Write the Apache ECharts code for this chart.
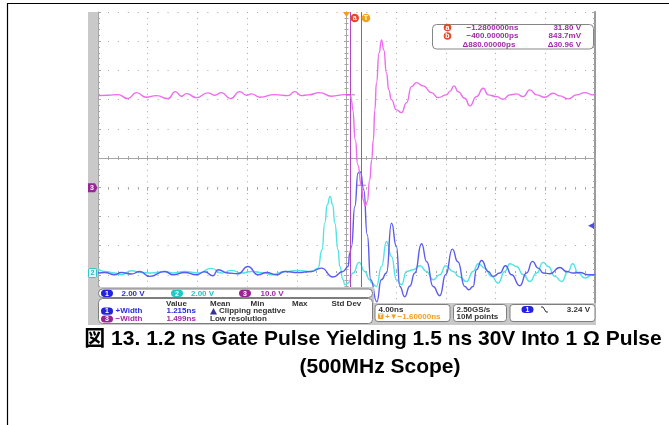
<!DOCTYPE html>
<html><head><meta charset="utf-8">
<script src="https://cdn.jsdelivr.net/npm/echarts@6/dist/echarts.min.js"></script>
<style>html,body{margin:0;padding:0;background:#fff}#c{width:669px;height:425px}</style>
</head><body><div id="c"></div><script>
// ---- scope settings ----
const timePerDiv = 4;        // ns / div
const horizPos = -1.6;       // ns at screen centre
const chVoltsPerDiv = [2, 2, 10];          // ch1, ch2, ch3
const chGroundDiv = [-3.94, -3.94, -1.017]; // ground marker position in divisions
const triggerLevel = 3.24;   // V on ch1
const cursorTime = [-1.28, -0.40];   // ns
const cursorVolts = [31.80, 0.8437]; // V on ch3

// ---- waveforms [time ns, volts] ----
const ch3Trace = [[-21.60,31.54],[-20.80,31.67],[-19.99,31.88],[-19.19,30.51],[-18.51,32.57],[-17.71,30.99],[-16.90,31.54],[-15.97,30.51],[-15.37,32.91],[-14.89,31.33],[-14.48,32.22],[-13.68,30.85],[-12.75,32.46],[-12.21,31.67],[-11.67,32.57],[-10.94,30.51],[-10.19,32.91],[-9.65,31.67],[-9.25,32.12],[-8.58,30.99],[-7.38,31.88],[-6.30,31.54],[-5.76,32.91],[-5.23,31.54],[-4.69,31.78],[-3.75,32.57],[-2.81,31.33],[-1.74,31.88],[-1.28,31.80],[-1.20,30.07],[-1.10,26.64],[-0.89,16.37],[-0.69,7.80],[-0.40,0.84],[-0.25,-4.19],[-0.09,-6.24],[0.07,-4.87],[0.27,2.66],[0.43,9.51],[0.56,16.37],[0.68,26.64],[0.81,35.89],[1.02,46.16],[1.22,50.62],[1.40,47.19],[1.62,39.31],[1.80,33.49],[2.02,30.07],[2.42,26.64],[2.83,25.72],[3.23,29.04],[3.63,34.62],[4.03,35.99],[4.57,34.86],[5.24,32.57],[5.77,30.85],[6.45,31.78],[6.71,32.91],[7.06,34.86],[7.38,32.91],[7.92,30.65],[8.33,28.01],[8.86,31.20],[9.40,34.07],[9.80,31.78],[10.48,31.20],[11.01,30.30],[11.55,31.78],[12.09,32.12],[12.62,31.20],[13.16,33.49],[13.70,31.78],[14.36,30.99],[15.03,32.36],[15.57,31.44],[16.24,30.41],[16.92,31.78],[17.58,32.57],[18.25,31.78],[18.40,31.60]];
const ch2Trace = [[-21.60,0.27],[-21.06,0.11],[-20.26,0],[-19.72,-0.12],[-18.91,0.16],[-18.11,0.04],[-17.30,0],[-16.23,0.11],[-15.56,0],[-14.62,0.11],[-13.55,0],[-12.47,0.32],[-11.67,0],[-10.86,0.18],[-10.06,0],[-9.25,0.11],[-8.18,0],[-7.64,-0.12],[-6.57,0.11],[-5.50,0.18],[-4.42,0.11],[-3.89,0.34],[-3.57,1.60],[-3.35,3.42],[-3.15,4.68],[-2.92,5.25],[-2.71,4.68],[-2.54,3.42],[-2.28,1.60],[-2.14,0.45],[-1.88,-0.46],[-1.74,-0.80],[-1.47,-0.68],[-1.07,0],[-0.59,0.73],[-0.13,0.11],[0.27,-0.46],[0.41,-0.68],[0.81,-0.92],[1.22,0.45],[1.62,2.16],[2.02,1.14],[2.42,-0.46],[2.83,-0.80],[3.23,0.11],[3.76,0.23],[4.32,0.50],[4.84,0.11],[5.37,-0.46],[5.91,-0.12],[6.39,0.50],[6.97,0.11],[7.52,-0.27],[8.06,-0.58],[8.59,0.11],[9.00,0.64],[9.53,0.34],[10.07,-0.23],[10.60,-0.68],[11.14,0.11],[11.55,0.64],[12.09,0.45],[12.62,-0.12],[13.16,-0.58],[13.70,0],[14.23,0.73],[14.63,0.45],[15.17,-0.23],[15.71,-0.58],[16.24,0.11],[16.60,0.64],[17.05,0],[17.58,-0.34],[18.25,-0.12],[18.40,-0.10]];
const ch1Trace = [[-21.60,0],[-21.06,0.04],[-20.26,-0.12],[-19.72,0.04],[-18.91,-0.07],[-18.24,0.11],[-17.44,-0.23],[-16.23,0.11],[-15.56,-0.12],[-14.62,0.04],[-13.68,-0.12],[-13.01,0.09],[-12.35,-0.18],[-11.94,0.23],[-11.14,0],[-10.33,-0.05],[-9.53,0.45],[-8.72,-0.12],[-8.04,0.04],[-7.24,-0.12],[-6.57,0.11],[-5.50,0.04],[-4.42,0.11],[-3.62,0.34],[-2.69,-0.27],[-1.88,0.11],[-1.47,0.45],[-1.34,1.37],[-1.20,1.82],[-0.93,4.56],[-0.67,6.85],[-0.48,6.92],[-0.21,5.70],[0.07,2.62],[0.35,-0.46],[0.84,-1.97],[1.20,-0.46],[1.62,0],[2.02,3.42],[2.42,1.81],[2.69,-0.92],[3.09,-1.62],[3.49,-0.90],[3.90,0],[4.44,2.01],[4.86,0.77],[5.37,-0.92],[5.91,-1.55],[6.39,-0.10],[6.92,1.64],[7.36,0.77],[7.92,-0.92],[8.24,-1.14],[8.59,-0.92],[8.86,0.23],[9.27,0.86],[9.80,0.11],[10.20,-0.23],[10.74,0],[11.20,0.50],[11.68,-0.12],[12.35,-0.87],[12.89,0],[13.37,0.80],[13.83,0.34],[14.23,0],[14.77,-0.05],[15.57,0.38],[16.11,0.11],[16.64,0],[17.18,0.04],[17.85,-0.12],[18.25,-0.12],[18.40,-0.10]];

// ---- readout texts ----
const chScaleLabels = ['2.00 V', '2.00 V', '10.0 V'];
const measHeaders = ['Value', 'Mean', 'Min', 'Max', 'Std Dev'];
const measNames = ['+Width', '\u2212Width'];
const measValues = ['1.215ns', '1.499ns'];
const measNotes = ['Clipping negative', 'Low resolution'];
const cursorRows = [['\u22121.2800000ns', '31.80 V'], ['\u2212400.00000ps', '843.7mV'], ['\u0394880.00000ps', '\u039430.96 V']];
const captionLines = ['図 13. 1.2 ns Gate Pulse Yielding 1.5 ns 30V Into 1 Ω Pulse', '(500MHz Scope)'];

// ---- layout ----
const G = {l: 98, t: 12, w: 497, h: 292};
const GC = '#a6a6a6';
const COL = {ch1: '#5c5cec', ch2: '#52e4e4', ch3: '#ee6cee', cur: '#b447c6'};
const PILL = ['#2323dc', '#22c8c8', '#982498'];
const TXT = ['#2a2ae0', '#22c4c4', '#a02aa6'];
const F = 'bold 8px "Liberation Sans", Arial, sans-serif';
const CAPF = 'bold 21px "Liberation Sans","Noto Sans CJK JP",sans-serif';

const chart = echarts.init(document.getElementById('c'), null, {renderer: 'canvas', width: 669, height: 425});

function divAxis(o) {
  return Object.assign({
    type: 'value', min: -5, max: 5, interval: 1,
    axisLabel: {show: false}, splitLine: {show: false},
    axisLine: {show: true, onZero: false, lineStyle: {color: GC, width: 1}},
    axisTick: {show: true, inside: true, length: 3, lineStyle: {color: GC}},
    minorTick: {show: true, splitNumber: 5, length: 2, lineStyle: {color: GC}},
    minorSplitLine: {show: false}
  }, o);
}
const hidden = (gi) => ({type: 'value', gridIndex: gi, show: false, min: -5, max: 5});

const xMin = horizPos - 5 * timePerDiv, xMax = horizPos + 5 * timePerDiv;
const chAxis = (i) => ({type: 'value', gridIndex: 0, show: false,
  min: (-5 - chGroundDiv[i]) * chVoltsPerDiv[i], max: (5 - chGroundDiv[i]) * chVoltsPerDiv[i]});

function T(x, y, s, fill, align, font) {
  return {type: 'text', z: 60, silent: true, style: {text: s, x: x, y: y, fill: fill, font: font || F,
    align: align || 'left', textAlign: align || 'left', verticalAlign: 'middle', textVerticalAlign: 'middle'}};
}
function R(x, y, w, h, r, fill, stroke, z) {
  return {type: 'rect', z: z || 55, silent: true, shape: {x: x, y: y, width: w, height: h, r: r},
    style: {fill: fill, stroke: stroke || null, lineWidth: 1}};
}
function pill(x, y, n, color) {
  return [R(x, y - 3.6, 12, 7.2, 3.6, color, null, 58), T(x + 6, y + 0.3, String(n), '#fff', 'center', 'bold 7px "Liberation Sans", Arial, sans-serif')];
}
function circ(cx, cy, r, fill, letter) {
  return [{type: 'circle', z: 58, silent: true, shape: {cx: cx, cy: cy, r: r}, style: {fill: fill}},
    T(cx, cy + 0.3, letter, '#fff', 'center', 'bold 7px "Liberation Sans", Arial, sans-serif')];
}

const gfx = [];
// page frame
gfx.push({type: 'line', z: 60, shape: {x1: 7, y1: 3.5, x2: 669, y2: 3.5}, style: {stroke: '#000', lineWidth: 1.2}});
gfx.push({type: 'line', z: 60, shape: {x1: 7.5, y1: 3, x2: 7.5, y2: 425}, style: {stroke: '#000', lineWidth: 1.2}});
// grey frame parts
gfx.push(R(88, 12, 10, 313, 0, '#c9c9c9', null, 50));
gfx.push(R(88, 287, 286, 38, 0, '#c9c9c9', null, 50));
gfx.push(R(373, 303, 223, 22, 0, '#c9c9c9', null, 50));
// ground markers
const gy = (i) => G.t + (5 - chGroundDiv[i]) * G.h / 10;
gfx.push({type: 'polygon', z: 56, shape: {points: [[88, gy(2) - 4.5], [95, gy(2) - 4.5], [97.5, gy(2)], [95, gy(2) + 4.5], [88, gy(2) + 4.5]]}, style: {fill: PILL[2]}});
gfx.push(T(92, gy(2) + 0.3, '3', '#fff', 'center', 'bold 7px "Liberation Sans", Arial, sans-serif'));
gfx.push(R(88.5, gy(1) - 4.5, 8, 9, 1, '#e4fafa', '#2cc8c8', 56));
gfx.push(T(92.5, gy(1) + 0.3, '2', '#22b8b8', 'center', 'bold 7px "Liberation Sans", Arial, sans-serif'));
// top markers
const cx0 = G.l + G.w / 2;
gfx.push({type: 'polygon', z: 58, shape: {points: [[cx0 - 3.5, 12], [cx0 + 3.5, 12], [cx0, 17]]}, style: {fill: '#f0a020'}});
gfx.push(...circ(354.7, 18, 4.3, '#e8482a', 'a'));
gfx.push(...circ(366, 18, 4.3, '#f4a21e', 'T'));
// cursor readout box
gfx.push(R(432.5, 24.5, 161, 24.5, 4, '#fff', '#858585', 55));
const rowY = [27.6, 36, 44.5];
gfx.push(...circ(447.5, rowY[0], 3.8, '#e8482a', 'a'));
gfx.push(...circ(447.5, rowY[1], 3.8, '#e8482a', 'b'));
cursorRows.forEach((r, i) => {
  gfx.push(T(i === 2 ? 462.5 : 466.5, rowY[i], r[0], TXT[2], 'left'));
  gfx.push(T(581, rowY[i], r[1], TXT[2], 'right'));
});
// channel scale box
gfx.push(R(98.5, 289, 274, 8.5, 4, '#fff', '#7e7e7e', 55));
const pillX = [101, 171, 239], lblX = [121.5, 191, 260.5];
for (let i = 0; i < 3; i++) {
  gfx.push(...pill(pillX[i], 293.3, i + 1, PILL[i]));
  gfx.push(T(lblX[i], 293.6, chScaleLabels[i], TXT[i], 'left'));
}
// measurement box
gfx.push(R(98.5, 298.5, 274, 25, 4, '#fff', '#7e7e7e', 55));
const hdrX = [166, 210, 250.5, 292, 331.5];
measHeaders.forEach((h, i) => gfx.push(T(hdrX[i], 303.6, h, '#333', 'left')));
const mChan = [0, 2], mY = [311.2, 319];
for (let k = 0; k < 2; k++) {
  gfx.push(...pill(101, mY[k], mChan[k] + 1, PILL[mChan[k]]));
  gfx.push(T(115.5, mY[k], measNames[k], TXT[mChan[k]], 'left'));
  gfx.push(T(166.5, mY[k], measValues[k], TXT[mChan[k]], 'left'));
}
gfx.push({type: 'polygon', z: 58, shape: {points: [[210, 314.5], [217, 314.5], [213.5, 308]]}, style: {fill: '#35309a'}});
gfx.push(T(219, mY[0], measNotes[0], '#333', 'left'));
gfx.push(T(210, mY[1], measNotes[1], '#333', 'left'));
// timebase / acquisition / trigger boxes
gfx.push(R(375, 304.5, 75, 17, 3, '#fff', '#7e7e7e', 55));
gfx.push(T(378.5, 309.5, timePerDiv.toFixed(2) + 'ns', '#333', 'left'));
gfx.push(R(378, 313.5, 5.5, 5.5, 1, '#f0a020', null, 58));
gfx.push(T(380.8, 316.5, 'T', '#fff', 'center', 'bold 5px "Liberation Sans", Arial, sans-serif'));
gfx.push(T(385, 316.6, '+\u25BC\u2212' + Math.abs(horizPos).toFixed(5) + 'ns', '#f0a020', 'left'));
gfx.push(R(453.5, 304.5, 53, 17, 3, '#fff', '#7e7e7e', 55));
gfx.push(T(456.5, 309.5, '2.50GS/s', '#333', 'left'));
gfx.push(T(456.5, 317, '10M points', '#333', 'left'));
gfx.push(R(510, 304.5, 85, 17, 3, '#fff', '#7e7e7e', 55));
gfx.push(...pill(521.5, 309.5, 1, PILL[0]));
gfx.push({type: 'polyline', z: 58, shape: {points: [[541, 307], [543, 307], [546, 312], [548, 312]]}, style: {stroke: '#333', lineWidth: 1, fill: null}});
gfx.push(T(590, 309.8, triggerLevel.toFixed(2) + ' V', '#333', 'right'));
// caption
gfx.push(T(373, 339, captionLines[0], '#000', 'center', CAPF));
gfx.push(T(380, 367, captionLines[1], '#000', 'center', CAPF));

const gridBase = {containLabel: false, show: false};
const lineCommon = {type: 'line', xAxisIndex: 0, showSymbol: false, smooth: 0.55, smoothMonotone: 'x', silent: true};
const option = {
  animation: false,
  backgroundColor: '#fff',
  grid: [
    Object.assign({left: G.l, top: G.t, width: G.w, height: G.h}, gridBase),
    Object.assign({left: G.l, top: G.t, width: G.w, height: G.h / 2}, gridBase),
    Object.assign({left: G.l, top: G.t + G.h / 2, width: G.w, height: G.h / 2}, gridBase),
    Object.assign({left: G.l, top: G.t, width: G.w / 2, height: G.h}, gridBase),
    Object.assign({left: G.l + G.w / 2, top: G.t, width: G.w / 2, height: G.h}, gridBase)
  ],
  xAxis: [
    {type: 'value', gridIndex: 0, show: false, min: xMin, max: xMax},
    divAxis({gridIndex: 0, position: 'bottom', axisLine: {show: false}, splitLine: {show: true, lineStyle: {color: GC, width: 1, type: [1, 4.84]}}}),
    divAxis({gridIndex: 0, position: 'top', axisLine: {show: false}}),
    divAxis({gridIndex: 1, position: 'bottom', axisTick: {show: true, inside: true, length: 2.5, lineStyle: {color: GC}}}),
    divAxis({gridIndex: 2, position: 'top', axisTick: {show: true, inside: true, length: 2.5, lineStyle: {color: GC}}}),
    hidden(3), hidden(4)
  ],
  yAxis: [
    chAxis(0), chAxis(1), chAxis(2),
    divAxis({gridIndex: 0, position: 'left', splitLine: {show: true, lineStyle: {color: GC, width: 1, type: [1, 8.94]}}}),
    divAxis({gridIndex: 0, position: 'right', axisLine: {show: true, onZero: false, lineStyle: {color: '#9a9a9a', width: 2}}}),
    hidden(1), hidden(2),
    divAxis({gridIndex: 3, position: 'right', axisTick: {show: true, inside: true, length: 2.5, lineStyle: {color: GC}}}),
    divAxis({gridIndex: 4, position: 'left', axisTick: {show: true, inside: true, length: 2.5, lineStyle: {color: GC}}})
  ],
  series: [
    Object.assign({name: 'ch2', yAxisIndex: 1, data: ch2Trace, lineStyle: {color: COL.ch2, width: 1.4}, itemStyle: {color: COL.ch2}, z: 3}, lineCommon),
    Object.assign({name: 'ch1', yAxisIndex: 0, data: ch1Trace, lineStyle: {color: COL.ch1, width: 1.4}, itemStyle: {color: COL.ch1}, z: 4}, lineCommon),
    Object.assign({name: 'ch3', yAxisIndex: 2, data: ch3Trace, lineStyle: {color: COL.ch3, width: 1.4}, itemStyle: {color: COL.ch3}, z: 5,
      markLine: {silent: true, symbol: ['none', 'none'], label: {show: false}, animation: false,
        lineStyle: {color: COL.cur, type: 'solid', width: 1},
        data: cursorTime.map(t => ({xAxis: t}))}}, lineCommon),
    {type: 'scatter', name: 'cursorMarks', xAxisIndex: 0, yAxisIndex: 2, silent: true, clip: false,
      data: cursorTime.map((t, i) => [t, cursorVolts[i]]), symbol: 'rect', symbolSize: [9, 1],
      itemStyle: {color: COL.cur}, z: 6},
    {type: 'scatter', name: 'trigLevel', xAxisIndex: 0, yAxisIndex: 0, silent: true, clip: false,
      data: [[xMax, triggerLevel]], symbol: 'triangle', symbolRotate: 90, symbolSize: 6, symbolOffset: [-4, 0],
      itemStyle: {color: '#2020e0'}, z: 6}
  ],
  graphic: {elements: gfx}
};
chart.setOption(option);
</script></body></html>
